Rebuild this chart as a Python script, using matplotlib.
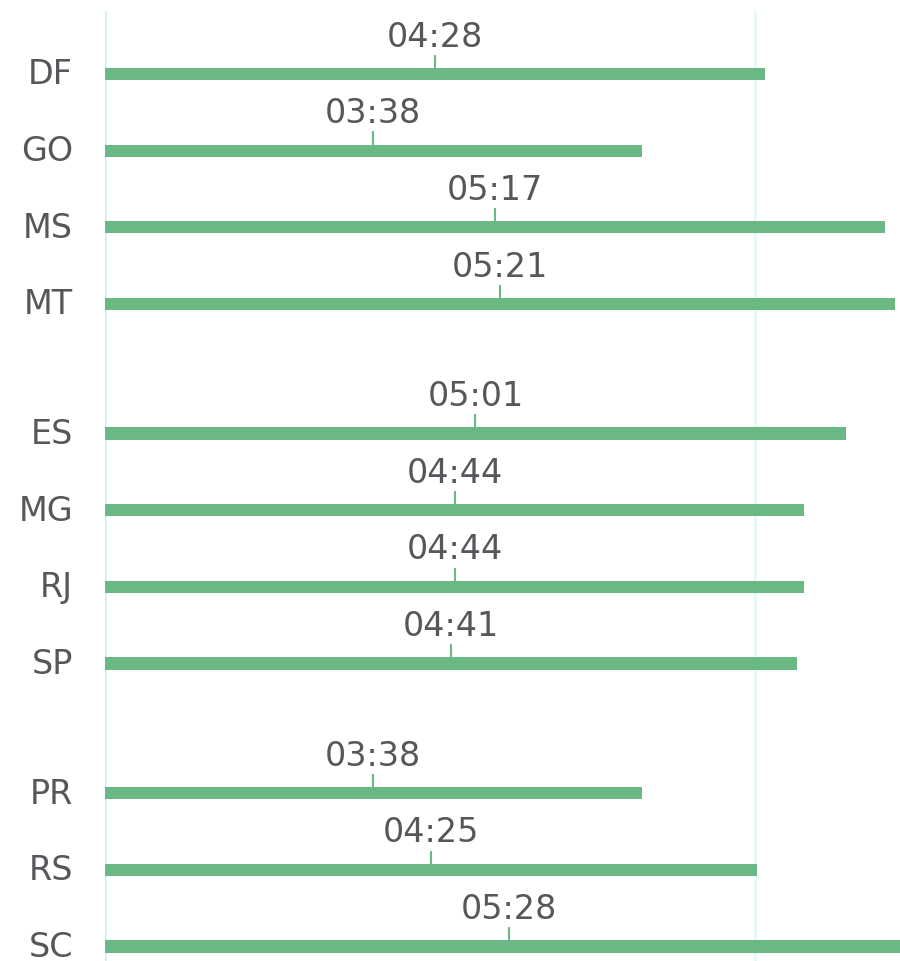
import matplotlib
matplotlib.use('Agg')
import matplotlib.pyplot as plt

states = ['DF', 'GO', 'MS', 'MT', 'ES', 'MG', 'RJ', 'SP', 'PR', 'RS', 'SC']
groups = [0, 0, 0, 0, 1, 1, 1, 1, 2, 2, 2]
times = ['04:28', '03:38', '05:17', '05:21', '05:01', '04:44', '04:44', '04:41', '03:38', '04:25', '05:28']

seconds = [int(t.split(':')[0]) * 60 + int(t.split(':')[1]) for t in times]
group_gap = 0.69
ypos = [i + g * group_gap for i, g in enumerate(groups)]

green = '#6ab985'
text_color = '#55575b'

fig = plt.figure(figsize=(9, 9.62), dpi=100)
ax = fig.add_axes([105 / 900, 0, 795 / 900, 1 - 12 / 962])

ax.axvline(0, color='#d3f1f5', lw=2, zorder=0)
ax.axvline(264, color='#e8f8fa', lw=2, zorder=0)

ax.barh(ypos, seconds, height=0.16, color=green, zorder=2)

for y, s, t in zip(ypos, seconds, times):
    mid = s / 2
    ax.vlines(mid, y - 0.25, y + 0.08, color=green, lw=1.5, zorder=3)
    ax.text(mid, y - 0.28, t, ha='center', va='bottom', fontsize=24,
            color=text_color, family='DejaVu Sans')

ax.set_xlim(0, 323)
ax.set_ylim(11.4 + 13 / 76.67, -63 / 76.67)
ax.set_yticks(ypos)
ax.set_yticklabels(states, fontsize=24, color=text_color, va='center')
ax.tick_params(axis='y', length=0, pad=23)
ax.set_xticks([])
for sp in ax.spines.values():
    sp.set_visible(False)

fig.savefig('out.png', dpi=100)
